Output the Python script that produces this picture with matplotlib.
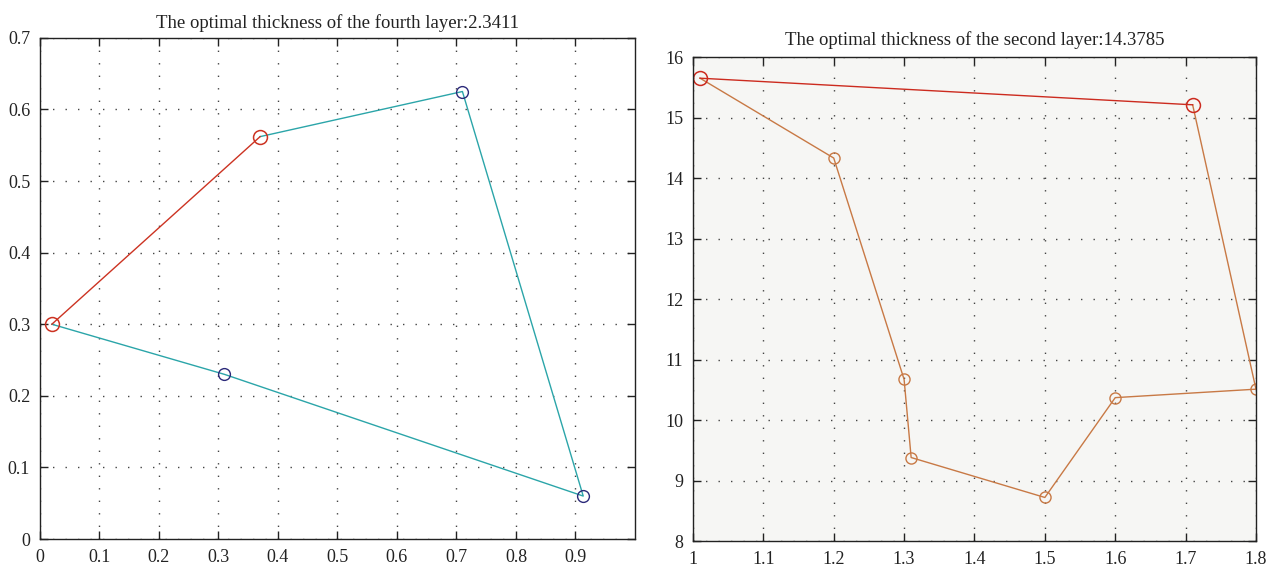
import matplotlib.pyplot as plt

# Left panel: fourth layer
left_title = 'The optimal thickness of the fourth layer:2.3411'
left_route_x = [0.37, 0.71, 0.913, 0.31, 0.02]
left_route_y = [0.562, 0.625, 0.06, 0.23, 0.30]
left_best_x = [0.02, 0.37]
left_best_y = [0.30, 0.562]

# Right panel: second layer
right_title = 'The optimal thickness of the second layer:14.3785'
right_route_x = [1.01, 1.20, 1.30, 1.31, 1.50, 1.60, 1.80, 1.71]
right_route_y = [15.65, 14.33, 10.67, 9.38, 8.72, 10.37, 10.51, 15.21]
right_best_x = [1.71, 1.01]
right_best_y = [15.21, 15.65]

left_xticks = [0, 0.1, 0.2, 0.3, 0.4, 0.5, 0.6, 0.7, 0.8, 0.9]
left_yticks = [0, 0.1, 0.2, 0.3, 0.4, 0.5, 0.6, 0.7]
right_xticks = [1, 1.1, 1.2, 1.3, 1.4, 1.5, 1.6, 1.7, 1.8]
right_yticks = [8, 9, 10, 11, 12, 13, 14, 15, 16]

plt.rcParams['font.family'] = ['Liberation Serif', 'DejaVu Serif']

fig = plt.figure(figsize=(12.72, 5.73), dpi=100)
ax1 = fig.add_axes([0.0314, 0.0593, 0.4678, 0.8747])
ax2 = fig.add_axes([0.5448, 0.0558, 0.4426, 0.8447])


def style(ax, xticks, yticks, xlim, ylim):
    ax.set_xlim(*xlim)
    ax.set_ylim(*ylim)
    ax.set_xticks(xticks)
    ax.set_yticks(yticks)
    ax.set_xticklabels([f'{t:g}' for t in xticks])
    ax.set_yticklabels([f'{t:g}' for t in yticks])
    ax.tick_params(direction='in', length=6, width=1.0, top=True, right=True,
                   labelsize=13, colors='#222222', pad=7)
    ax.grid(True, linestyle=(0, (1, 8)), color='#444444', linewidth=1.0)
    for s in ax.spines.values():
        s.set_linewidth(1.0)
        s.set_color('#222222')
    ax.set_axisbelow(True)


style(ax1, left_xticks, left_yticks, (0, 1), (0, 0.7))
ax1.plot(left_route_x, left_route_y, color='#2ba5a9', lw=1.0, marker='o',
         markevery=[1, 2, 3], markersize=8.5, markerfacecolor='none',
         markeredgecolor='#2c2a7a', markeredgewidth=1.0)
ax1.plot(left_best_x, left_best_y, color='#cc3322', lw=1.0, marker='o',
         markersize=10, markerfacecolor='none', markeredgecolor='#cc3322', markeredgewidth=1.1)
ax1.set_title(left_title, fontsize=13.5, color='#222222', pad=7)

style(ax2, right_xticks, right_yticks, (1, 1.8), (8, 16))
ax2.set_facecolor('#f6f6f4')
ax2.plot(right_route_x, right_route_y, color='#c87945', lw=1.0, marker='o',
         markevery=[1, 2, 3, 4, 5, 6], markersize=8, markerfacecolor='none',
         markeredgecolor='#c87945', markeredgewidth=1.0)
ax2.plot(right_best_x, right_best_y, color='#cc2b1f', lw=1.0, marker='o',
         markersize=10, markerfacecolor='none', markeredgecolor='#cc2b1f', markeredgewidth=1.1)
ax2.set_title(right_title, fontsize=13.5, color='#222222', pad=9)

fig.savefig('out.png', dpi=100)
